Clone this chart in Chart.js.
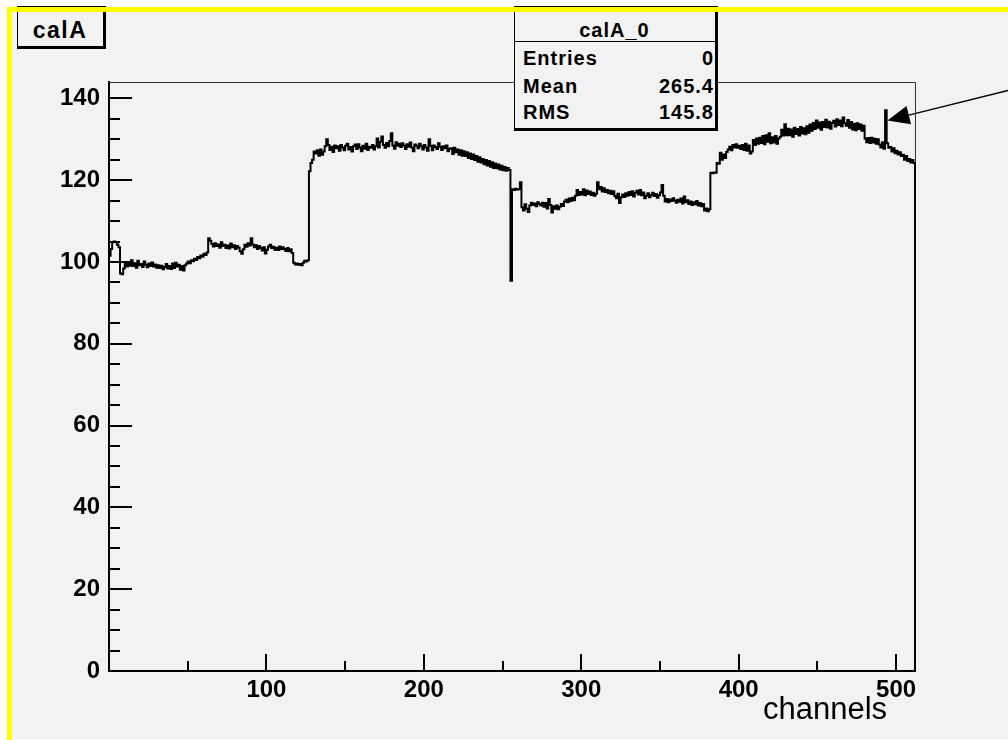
<!DOCTYPE html>
<html><head><meta charset="utf-8">
<script src="https://cdn.jsdelivr.net/npm/chart.js@4.4.1/dist/chart.umd.min.js"></script>
<style>
html,body{margin:0;padding:0;background:#fff;width:1008px;height:740px;overflow:hidden;}
#wrap{position:relative;width:1008px;height:740px;}
#pad{position:absolute;left:12px;top:12px;width:996px;height:727px;background:#f2f2f2;}
#yt{position:absolute;left:7px;top:7px;width:1001px;height:5px;background:#ffff00;z-index:6}
#yl{position:absolute;left:7px;top:7px;width:5px;height:733px;background:#ffff00;z-index:6}
canvas{position:absolute;left:0;top:0;}
.box{position:absolute;box-sizing:border-box;background:#f2f2f2;border:1px solid #000;border-right-width:3px;border-bottom-width:3px;z-index:3}
.t{position:absolute;font-family:'Liberation Sans',Arial,sans-serif;color:#000;white-space:nowrap;z-index:4}
.b{font-weight:bold;font-size:20px;line-height:22px;letter-spacing:1px}
</style></head>
<body>
<div id="wrap">
  <div id="pad"></div>
  <canvas id="c" width="1008" height="740"></canvas>
  <div class="box" style="left:17px;top:6px;width:89px;height:43px"></div>
  <div class="t" style="left:17px;top:18px;width:86px;text-align:center;font-weight:bold;font-size:23px;line-height:24px;letter-spacing:1.5px">calA</div>
  <div class="box" style="left:514px;top:6px;width:204px;height:125px"></div>
  <div style="position:absolute;left:515px;top:41px;width:200px;height:1px;background:#000;z-index:4"></div>
  <div class="t b" style="left:514px;top:19px;width:201px;text-align:center">calA_0</div>
  <div class="t b" style="left:523px;top:47px">Entries</div>
  <div class="t b" style="left:600px;top:47px;width:114px;text-align:right">0</div>
  <div class="t b" style="left:523px;top:75px">Mean</div>
  <div class="t b" style="left:600px;top:75px;width:114px;text-align:right">265.4</div>
  <div class="t b" style="left:523px;top:101px">RMS</div>
  <div class="t b" style="left:600px;top:101px;width:114px;text-align:right">145.8</div>
  <div class="t" style="left:763px;top:693px;font-size:31px;line-height:32px">channels</div>
  <div id="yt"></div><div id="yl"></div>
</div>
<script>
// Histogram "calA": counts per channel (bin width 1 channel)
const segA = [ // channels 0-126
101.5,103.2,104.8,105.0,104.9,104.2,103.6,97.2,97.0,98.4,
99.6,98.9,99.8,99.1,100.4,99.0,99.7,98.6,100.3,99.2,
99.5,98.8,100.1,99.3,98.7,99.6,99.0,99.9,98.9,99.4,
98.6,99.2,98.5,99.1,98.2,98.8,99.5,98.4,99.0,98.3,
99.6,98.5,99.8,98.9,99.3,98.1,99.0,97.9,99.2,99.6,
100.1,99.7,100.4,100.2,100.8,100.5,101.2,100.9,101.6,101.3,
102.0,101.7,102.3,105.8,105.2,104.4,103.8,104.6,103.9,104.3,
103.5,104.8,103.9,104.2,103.4,104.0,103.3,104.5,103.6,104.1,
103.2,103.9,103.5,102.6,102.0,103.1,104.2,103.7,104.6,104.0,
105.8,104.3,103.6,104.1,103.2,103.9,103.4,102.8,103.6,102.1,
103.0,103.8,104.2,103.4,103.7,103.0,103.5,102.9,103.8,103.1,
103.6,103.2,102.7,103.4,102.6,103.1,102.2,99.8,99.4,99.6,
99.3,99.5,99.2,99.8,100.3,100.1,100.4];
const segB = [ // channels 127-255
122.2,124.2,125.0,127.0,126.5,127.3,126.0,127.5,126.2,127.0,
128.3,130.0,128.6,127.4,128.2,126.9,128.5,127.8,128.3,127.2,
128.6,128.0,127.3,128.4,128.9,127.5,128.1,127.0,128.3,128.7,
127.6,128.8,128.0,127.1,128.4,127.7,128.9,127.4,128.2,127.9,
128.6,127.5,128.3,130.2,128.0,129.4,130.7,128.6,127.9,129.1,
128.3,129.6,131.5,128.5,127.7,129.3,128.4,128.9,128.1,129.0,
128.5,127.6,128.8,128.2,129.2,128.0,127.1,128.7,128.4,127.8,
128.9,128.3,127.5,128.6,128.0,127.2,130.0,128.4,127.3,128.5,
128.1,127.6,129.0,128.2,127.4,128.3,127.8,128.5,127.1,127.7,
127.8,126.4,127.9,126.8,127.5,126.2,127.3,126.0,127.1,125.9,
126.8,125.4,126.5,125.2,126.3,124.9,125.9,124.5,125.6,124.3,
125.2,123.9,124.9,123.6,124.7,123.3,124.4,123.0,124.1,122.9,
123.8,122.6,123.5,122.4,123.2,122.3,123.0,122.5,95.4];
const segC = [ // channels 256-381
117.8,117.6,117.9,117.7,117.8,119.5,113.4,112.6,114.1,113.0,
112.2,113.8,114.5,113.9,114.3,113.6,114.6,114.2,113.8,114.5,
113.5,114.4,113.1,115.4,113.9,112.1,113.6,113.0,113.8,112.9,
113.5,114.2,113.7,114.8,115.2,114.6,115.5,114.9,115.7,115.1,
116.2,117.6,116.4,117.1,116.5,117.8,116.3,117.5,116.6,117.2,
116.4,116.9,116.2,116.7,119.5,117.8,118.3,117.2,118.0,117.1,
117.6,116.8,117.4,116.6,117.3,116.1,115.6,116.7,114.4,115.8,
116.5,115.9,116.8,116.2,117.1,116.4,117.3,116.0,116.9,117.4,
116.5,117.6,116.3,117.0,115.6,116.2,116.8,115.8,116.4,116.9,
116.1,116.6,115.7,116.3,117.0,118.8,116.2,114.8,115.4,114.6,
115.3,114.9,115.6,115.0,114.5,115.2,114.7,115.5,114.3,116.0,
114.6,115.1,114.2,114.8,113.9,114.6,114.1,114.9,113.8,114.4,
113.6,114.2,112.6,113.1,112.4,112.9];
const segD = [ // channels 382-511
121.8,121.7,121.9,121.8,124.2,124.0,126.7,125.0,126.3,125.4,
126.9,127.5,128.2,127.3,128.6,128.0,128.8,127.9,128.4,127.6,
128.6,127.4,128.9,127.2,128.5,126.5,127.0,129.8,128.6,130.2,
128.9,130.4,129.1,130.8,128.8,131.0,129.4,131.5,129.0,130.5,
129.2,130.8,128.9,130.2,130.6,132.3,130.9,133.7,131.0,132.6,
131.0,132.4,130.6,132.8,131.3,132.5,130.9,133.0,131.4,132.7,
131.2,133.2,131.6,133.6,132.1,134.0,132.5,134.6,132.8,134.1,
132.3,134.2,133.0,134.8,132.9,134.3,132.6,134.0,134.5,133.1,
134.9,133.5,134.6,133.2,135.3,133.9,133.3,134.7,132.8,134.2,
132.4,133.8,132.2,133.9,132.5,133.6,132.1,133.3,130.2,129.3,
130.3,129.1,130.4,129.2,130.1,128.9,130.0,128.7,128.0,129.3,
127.7,137.1,129.0,127.9,128.1,127.0,127.8,126.6,127.2,126.3,
126.8,125.9,126.2,125.0,125.9,124.7,125.2,124.3,124.9,124.2];

const xLabelValues = [100, 200, 300, 400, 500];
const yLabelValues = [0, 20, 40, 60, 80, 100, 120, 140];
const xRange = [0, 512];
const yRange = [0, 144];
const arrowTarget = {channel: 494.5, value: 134.6}; // arrow pointing at the spike

const counts = segA.concat(segB, segC, segD);
const pts = counts.map((v, i) => ({x: xRange[0] + i, y: v}));
pts.push({x: xRange[1], y: counts[counts.length - 1]}, {x: xRange[1], y: 0});

const FONT = "'Liberation Sans', Arial, sans-serif";

const framePlugin = {
  id: 'frame',
  beforeDatasetsDraw(chart) {
    const a = chart.chartArea, c = chart.ctx;
    c.save(); c.strokeStyle = '#333'; c.lineWidth = 1;
    c.beginPath();
    c.moveTo(a.left, a.top + 0.5); c.lineTo(a.right + 0.5, a.top + 0.5); c.lineTo(a.right + 0.5, a.bottom);
    c.stroke(); c.restore();
  }
};
const tickPlugin = {
  id: 'insideTicks',
  afterDatasetsDraw(chart) {
    const a = chart.chartArea, c = chart.ctx, xs = chart.scales.x, ys = chart.scales.y;
    c.save(); c.strokeStyle = '#000'; c.lineWidth = 2; c.beginPath();
    for (let v = yRange[0]; v <= yRange[1]; v += 5) {
      const py = Math.round(ys.getPixelForValue(v));
      const len = v % 20 === 0 ? 23 : 11;
      c.moveTo(a.left, py); c.lineTo(a.left + len, py);
    }
    for (let v = 50; v <= xRange[1]; v += 50) {
      const px = Math.round(xs.getPixelForValue(v));
      const len = v % 100 === 0 ? 17 : 10;
      c.moveTo(px, a.bottom); c.lineTo(px, a.bottom - len);
    }
    c.stroke(); c.restore();
  }
};
const arrowPlugin = {
  id: 'arrow',
  afterDraw(chart) {
    const c = chart.ctx, xs = chart.scales.x, ys = chart.scales.y;
    const tx = xs.getPixelForValue(arrowTarget.channel), ty = ys.getPixelForValue(arrowTarget.value);
    const ex = chart.width, ey = ty - 30;
    const dx = ex - tx, dy = ey - ty, L = Math.hypot(dx, dy), ux = dx / L, uy = dy / L;
    const hl = 22, hw = 9.5, bx = tx + ux * hl, by = ty + uy * hl;
    c.save(); c.strokeStyle = '#000'; c.fillStyle = '#000'; c.lineWidth = 1.5;
    c.beginPath(); c.moveTo(bx, by); c.lineTo(ex, ey); c.stroke();
    c.beginPath(); c.moveTo(tx, ty);
    c.lineTo(bx - uy * hw, by + ux * hw); c.lineTo(bx + uy * hw, by - ux * hw);
    c.closePath(); c.fill(); c.restore();
  }
};

new Chart(document.getElementById('c').getContext('2d'), {
  type: 'line',
  data: { datasets: [{
    label: 'calA_0', data: pts, borderColor: '#000', borderWidth: 2, pointRadius: 0,
    stepped: 'before', fill: false, tension: 0, clip: false, borderJoinStyle: 'miter'
  }]},
  options: {
    responsive: false, animation: false, devicePixelRatio: 1,
    layout: { padding: { left: 0, right: 93, top: 82, bottom: 0 } },
    plugins: { legend: { display: false }, tooltip: { enabled: false }, title: { display: false } },
    scales: {
      x: {
        type: 'linear', min: xRange[0], max: xRange[1],
        grid: { display: false, drawTicks: false },
        border: { display: true, color: '#000', width: 2 },
        afterBuildTicks: s => { s.ticks = xLabelValues.map(v => ({ value: v })); },
        afterFit: s => { s.height = 69; },
        ticks: { padding: 5, color: '#000', maxRotation: 0, autoSkip: false,
                 font: { family: FONT, size: 24, weight: 'bold' } }
      },
      y: {
        type: 'linear', min: yRange[0], max: yRange[1],
        grid: { display: false, drawTicks: false },
        border: { display: true, color: '#000', width: 2 },
        afterBuildTicks: s => { s.ticks = yLabelValues.map(v => ({ value: v })); },
        afterFit: s => { s.width = 109; },
        ticks: { padding: 9, color: '#000', autoSkip: false,
                 font: { family: FONT, size: 24, weight: 'bold' } }
      }
    }
  },
  plugins: [framePlugin, tickPlugin, arrowPlugin]
});
</script>
</body></html>
